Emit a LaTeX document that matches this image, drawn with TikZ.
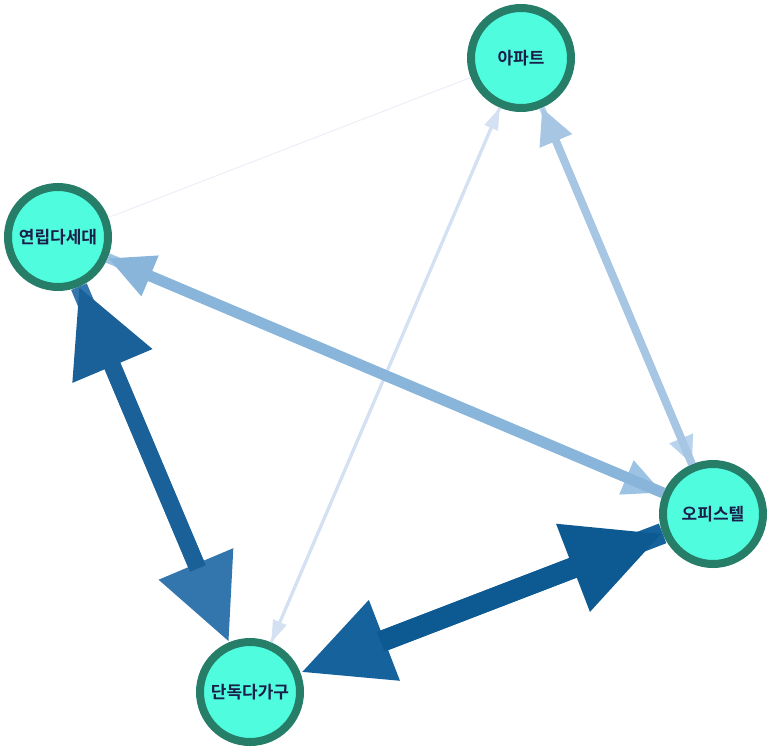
\documentclass[tikz,border=0pt]{standalone}
\usepackage{fontspec}
\newfontfamily\kr{Noto Sans CJK KR}[BoldFont={Noto Sans CJK KR Bold}]
\usepackage{tikz}
\usetikzlibrary{arrows.meta}

\definecolor{nodefill}{HTML}{50FCDE}
\definecolor{nodeline}{HTML}{267D68}
\definecolor{nodetext}{HTML}{1A1F4A}

\begin{document}
\begin{tikzpicture}[x=1pt, y=-1pt,
    house/.style={circle, draw=nodeline, fill=nodefill, line width=8pt,
      minimum size=100pt, inner sep=0pt,
      font=\kr\bfseries\fontsize{17}{19}\selectfont, text=nodetext},
    flow/.style={line width=#1}]
    \useasboundingbox (0,0) rectangle (771,750);

    % Housing types
    \node[house] (apt) at (521,58) {아파트};
    \node[house] (row) at (58,237) {연립다세대};
    \node[house] (off) at (713,514) {오피스텔};
    \node[house] (det) at (250,692) {단독다가구};

    % Faint link, no visible head
    \draw[flow=1pt, color={rgb,255:red,236;green,239;blue,248}] (apt) -- (row);

    % Thin links to the apartment
    \draw[flow=3pt, color={rgb,255:red,211;green,225;blue,243},
      -{Triangle[length=22pt, width=14pt]}] (det) -- (apt);
    \draw[flow=3pt, color={rgb,255:red,211;green,225;blue,243},
      -{Triangle[length=22pt, width=14pt]}] (apt) -- (det);

    % Apartment and officetel
    \draw[flow=6pt, color={rgb,255:red,184;green,211;blue,236},
      -{Triangle[length=28pt, width=24pt]}] (apt) -- (off);
    \draw[flow=8pt, color={rgb,255:red,166;green,198;blue,227},
      -{Triangle[length=36pt, width=33pt]}] (off) -- (apt);

    % Row house and officetel
    \draw[flow=10pt, color={rgb,255:red,157;green,195;blue,228},
      -{Triangle[length=40pt, width=34pt]}] (row) -- (off);
    \draw[flow=11pt, color={rgb,255:red,138;green,181;blue,219},
      -{Triangle[length=46pt, width=41pt]}] (off) -- (row);

    % Row house and detached house
    \draw[flow=17pt, color={rgb,255:red,51;green,118;blue,173},
      -{Triangle[length=85pt, width=76pt]}] (row) -- (det);
    \draw[flow=17pt, color={rgb,255:red,27;green,97;blue,153}, shorten <=80pt,
      -{Triangle[length=86pt, width=82pt]}] (det) -- (row);

    % Detached house and officetel
    \draw[flow=21pt, color={rgb,255:red,22;green,98;blue,156},
      -{Triangle[length=90pt, width=80pt]}] (off) -- (det);
    \draw[flow=21pt, color={rgb,255:red,13;green,90;blue,146}, shorten <=86pt,
      -{Triangle[length=96pt, width=88pt]}] (det) -- (off);

  \end{tikzpicture}
\end{document}
